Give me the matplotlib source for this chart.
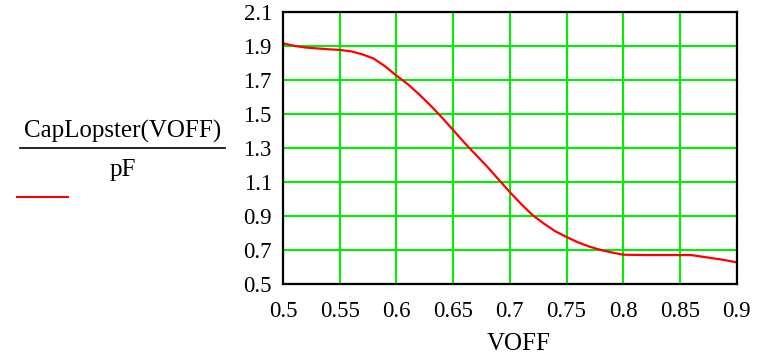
import matplotlib
matplotlib.use('Agg')
import matplotlib.pyplot as plt
from matplotlib.lines import Line2D

# values
voff = [0.50, 0.51, 0.52, 0.53, 0.54, 0.55, 0.56, 0.57, 0.58, 0.59,
        0.60, 0.61, 0.62, 0.63, 0.64, 0.65, 0.66, 0.67, 0.68, 0.69,
        0.70, 0.71, 0.72, 0.73, 0.74, 0.75, 0.76, 0.77, 0.78, 0.79,
        0.80, 0.82, 0.84, 0.86, 0.87, 0.88, 0.89, 0.90]
cap = [1.915, 1.90, 1.89, 1.885, 1.88, 1.876, 1.868, 1.85, 1.825, 1.78,
       1.725, 1.675, 1.615, 1.55, 1.48, 1.405, 1.33, 1.26, 1.19, 1.115,
       1.04, 0.97, 0.905, 0.855, 0.81, 0.776, 0.745, 0.72, 0.70, 0.685,
       0.672, 0.67, 0.67, 0.67, 0.66, 0.65, 0.64, 0.627]

xticks = [0.5, 0.55, 0.6, 0.65, 0.7, 0.75, 0.8, 0.85, 0.9]
xticklabels = ['0.5', '0.55', '0.6', '0.65', '0.7', '0.75', '0.8', '0.85', '0.9']
yticks = [0.5, 0.7, 0.9, 1.1, 1.3, 1.5, 1.7, 1.9, 2.1]
yticklabels = ['0.5', '0.7', '0.9', '1.1', '1.3', '1.5', '1.7', '1.9', '2.1']

plt.rcParams['font.family'] = ['Liberation Serif', 'DejaVu Serif']

fig = plt.figure(figsize=(7.69, 3.59), dpi=100)
ax = fig.add_axes([0.368, 0.209, 0.590, 0.758])

ax.plot(voff, cap, color='#ff0000', lw=1.6, zorder=3)

ax.set_xlim(0.5, 0.9)
ax.set_ylim(0.5, 2.1)
ax.set_xticks(xticks)
ax.set_xticklabels(xticklabels)
ax.set_yticks(yticks)
ax.set_yticklabels(yticklabels)
ax.tick_params(length=0, labelsize=16.5)
ax.tick_params(axis='x', pad=12)
ax.tick_params(axis='y', pad=8)
ax.grid(True, color='#00ee00', lw=1.5)
ax.set_axisbelow(True)
for s in ax.spines.values():
    s.set_color('black')
    s.set_linewidth(1.6)
    s.set_zorder(4)

fig.text(519 / 769, 1 - 344 / 359, 'VOFF', ha='center', va='center', fontsize=18)

# y label as a fraction with a legend line below
fig.text(123 / 769, 1 - 131 / 359, 'CapLopster(VOFF)', ha='center', va='center', fontsize=18)
fig.text(123 / 769, 1 - 170 / 359, 'pF', ha='center', va='center', fontsize=18)
fig.add_artist(Line2D([20 / 769, 225 / 769], [1 - 148 / 359, 1 - 148 / 359],
                      color='black', lw=1.2, transform=fig.transFigure))
fig.add_artist(Line2D([17 / 769, 68 / 769], [1 - 197 / 359, 1 - 197 / 359],
                      color='#ff0000', lw=1.5, transform=fig.transFigure))

fig.savefig('out.png', dpi=100)
